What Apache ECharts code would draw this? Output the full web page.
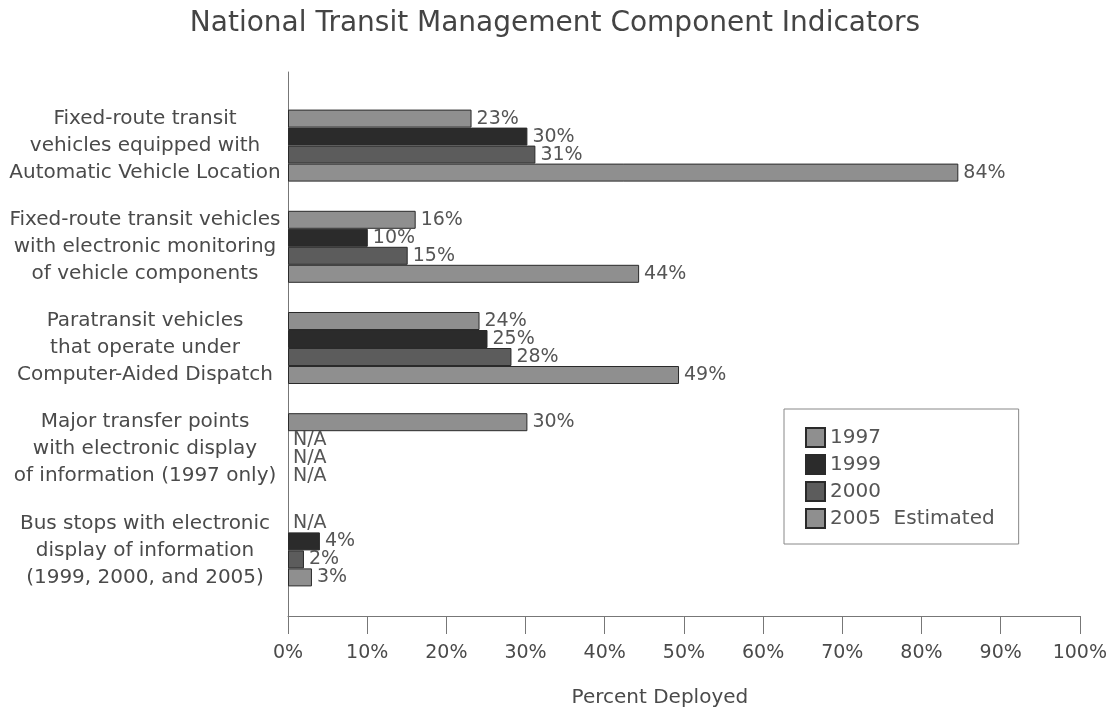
<!DOCTYPE html>
<html>
<head>
<meta charset="utf-8">
<script src="https://cdn.jsdelivr.net/npm/echarts@6/dist/echarts.min.js"></script>
<style>
html,body{margin:0;padding:0;background:#fff;overflow:hidden;}
#main{width:1110px;height:713px;}
</style>
</head>
<body>
<div id="main"></div>
<script>
const categories = [
  'Fixed-route transit\nvehicles equipped with\nAutomatic Vehicle Location',
  'Fixed-route transit vehicles\nwith electronic monitoring\nof vehicle components',
  'Paratransit vehicles\nthat operate under\nComputer-Aided Dispatch',
  'Major transfer points\nwith electronic display\nof information (1997 only)',
  'Bus stops with electronic\ndisplay of information\n(1999, 2000, and 2005)'
];
const seriesNames = ['1997', '1999', '2000', '2005  Estimated'];
const v1997 = [23, 16, 24, 30, null];
const v1999 = [30, 10, 25, null, 4];
const v2000 = [31, 15, 28, null, 2];
const v2005 = [84, 44, 49, null, 3];
const xTicks = [0, 10, 20, 30, 40, 50, 60, 70, 80, 90, 100];

const colors = ['#8f8f8f', '#2b2b2b', '#5c5c5c', '#8f8f8f'];
const FONT = 'DejaVu Sans';
const TXT = '#4a4a4a';

function toData(arr) {
  return arr.map(v => v === null
    ? { value: 0, itemStyle: { borderWidth: 0 }, label: { formatter: 'N/A' } }
    : v);
}

const allValues = [v1997, v1999, v2000, v2005];
const series = allValues.map((arr, i) => ({
  name: seriesNames[i],
  type: 'bar',
  xAxisIndex: 0,
  yAxisIndex: 0,
  barWidth: 18,
  barGap: '0%',
  data: toData(arr),
  itemStyle: { color: colors[i], borderColor: '#2a2a2a', borderWidth: 1 },
  label: {
    show: true,
    position: 'right',
    distance: 5,
    formatter: '{c}%',
    color: '#555',
    fontFamily: FONT,
    fontSize: 19
  },
  emphasis: { disabled: true },
  animation: false
}));

const chart = echarts.init(document.getElementById('main'));
chart.setOption({
  backgroundColor: '#fff',
  animation: false,
  title: {
    text: 'National Transit Management Component Indicators',
    left: 'center',
    top: 5,
    textStyle: { color: '#444', fontFamily: FONT, fontSize: 28, fontWeight: 'normal' }
  },
  legend: {
    orient: 'vertical',
    left: 784,
    top: 409,
    itemWidth: 19,
    itemHeight: 19,
    itemGap: 6,
    padding: [18, 24, 15, 21],
    borderColor: '#888',
    borderWidth: 1,
    icon: 'rect',
    textStyle: { color: '#555', fontFamily: FONT, fontSize: 20 },
    data: seriesNames
  },
  grid: [
    { left: 288, width: 798, top: 95, height: 506, containLabel: false },
    { left: 288, width: 798, top: 72, height: 551, containLabel: false }
  ],
  xAxis: [
    { gridIndex: 0, type: 'value', min: 0, max: 100, interval: 10, show: false },
    {
      gridIndex: 1, type: 'value', min: 0, max: 100, interval: 10,
      name: 'Percent Deployed', nameLocation: 'middle', nameGap: 72,
      nameTextStyle: { color: TXT, fontFamily: FONT, fontSize: 20, padding: [0, 48, 0, 0] },
      axisLine: { show: true, lineStyle: { color: '#777', width: 1 } },
      axisTick: { show: true, length: 18, lineStyle: { color: '#777' } },
      splitLine: { show: false },
      axisLabel: { color: TXT, fontFamily: FONT, fontSize: 19, margin: 28, formatter: '{value}%' }
    }
  ],
  yAxis: [
    {
      gridIndex: 0, type: 'category', inverse: true, data: categories,
      axisLine: { show: false }, axisTick: { show: false },
      axisLabel: { color: TXT, fontFamily: FONT, fontSize: 20, lineHeight: 27, align: 'center', margin: 143 }
    },
    {
      gridIndex: 1, type: 'category', data: [''],
      axisLine: { show: true, lineStyle: { color: '#777', width: 1 } },
      axisTick: { show: false }, axisLabel: { show: false }
    }
  ],
  series: series
});
</script>
</body>
</html>
